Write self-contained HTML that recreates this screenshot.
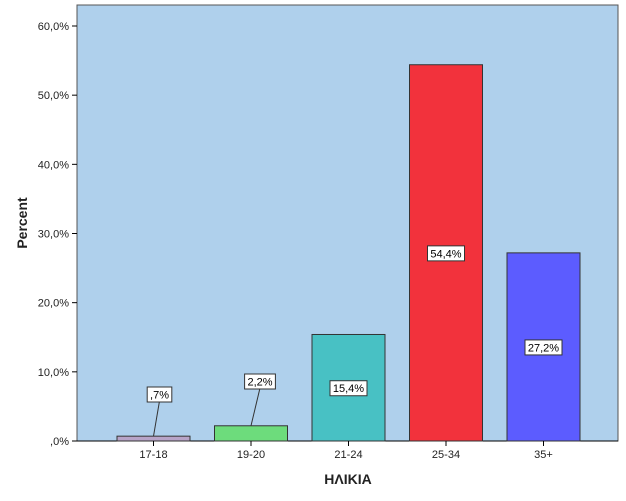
<!DOCTYPE html>
<html><head><meta charset="utf-8"><style>
body{margin:0;background:#fff;}
svg{display:block;font-family:"Liberation Sans",sans-serif;}
</style></head><body>
<svg id="chart" width="626" height="501">
<rect x="77" y="5" width="541" height="436" fill="#afd0ec" stroke="#555" stroke-width="1"/>
<g id="g"></g>
<text x="348" y="484" text-anchor="middle" font-size="14" font-weight="bold" fill="#222">ΗΛΙΚΙΑ</text>
<text transform="translate(27,223) rotate(-90)" text-anchor="middle" font-size="14" font-weight="bold" fill="#222">Percent</text>
</svg>
<script>
const categories=["17-18","19-20","21-24","25-34","35+"];
const values=[0.7,2.2,15.4,54.4,27.2];
const valueLabels=[",7%","2,2%","15,4%","54,4%","27,2%"];
const colors=["#b8a4c8","#6ddc7c","#48c1c4","#f2323c","#5c5cff"];
const yTicks=[0,10,20,30,40,50,60];
const yTickLabels=[",0%","10,0%","20,0%","30,0%","40,0%","50,0%","60,0%"];
const NS="http://www.w3.org/2000/svg",g=document.getElementById('g');
const y=v=>441-v*415/60;
const xc=i=>153.5+i*97.5;
function mk(t,a){const e=document.createElementNS(NS,t);for(const k in a)e.setAttribute(k,a[k]);g.appendChild(e);return e;}
mk('line',{x1:77,y1:441,x2:618,y2:441,stroke:'#000'});
yTicks.forEach((v,i)=>{
 const l=mk('line',{x1:72,y1:y(v),x2:77,y2:y(v),stroke:'#000'});
 
 
 const t=mk('text',{x:69,y:y(v)+4,'text-anchor':'end','font-size':11,fill:'#222'});
 t.textContent=yTickLabels[i];
 
 
});
categories.forEach((c,i)=>{
 const cx=xc(i),top=y(values[i]);
 const b=mk('rect',{x:cx-36.5,y:top,width:73,height:441-top,fill:colors[i],stroke:'#333','stroke-width':1});
 
 
 mk('line',{x1:cx,y1:441,x2:cx,y2:446,stroke:'#000'});
 const t=mk('text',{x:cx,y:458,'text-anchor':'middle','font-size':11,fill:'#222'});
 t.textContent=c;
 
 
 const w=valueLabels[i].length*6.2+6;
 let ly,lx=cx;
 if(441-top<40){ly=top-42+ (values[i]<1?0:0); ly=values[i]<1?394:381; lx=cx+(values[i]<1?6:9);
   mk('line',{x1:cx,y1:top,x2:lx,y2:ly+7,stroke:'#333'});}
 else ly=(top+441)/2;
 const r=mk('rect',{x:lx-w/2,y:ly-7,width:w,height:15,fill:'#fff',stroke:'#333'});
 
 
 const vt=mk('text',{x:lx,y:ly+4.5,'text-anchor':'middle','font-size':11,fill:'#000'});
 vt.textContent=valueLabels[i];
 
 
});
</script>
</body></html>
